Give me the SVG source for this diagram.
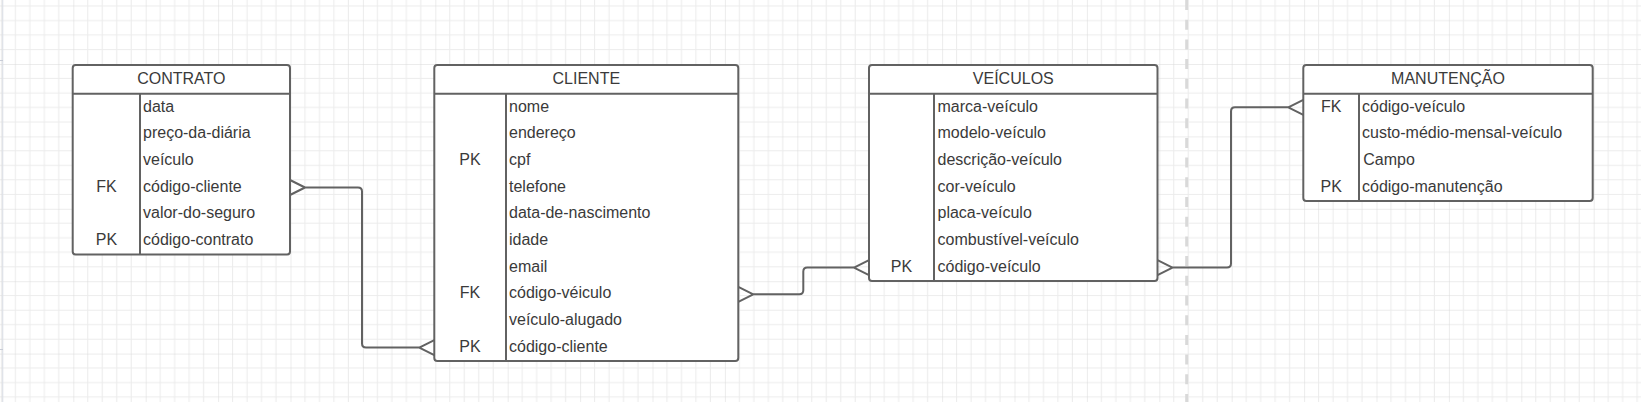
<svg xmlns="http://www.w3.org/2000/svg" width="1641" height="402" viewBox="0 0 1641 402">
  <defs>
    <pattern id="grid" patternUnits="userSpaceOnUse" x="0.9" y="-8.4" width="72.4" height="72.4">
      <rect width="72.4" height="72.4" fill="#ffffff"/>
      <g stroke="#ececec" stroke-width="1">
        <line x1="14.48" y1="0" x2="14.48" y2="72.4"/>
        <line x1="28.96" y1="0" x2="28.96" y2="72.4"/>
        <line x1="43.44" y1="0" x2="43.44" y2="72.4"/>
        <line x1="57.92" y1="0" x2="57.92" y2="72.4"/>
        <line x1="0" y1="14.48" x2="72.4" y2="14.48"/>
        <line x1="0" y1="28.96" x2="72.4" y2="28.96"/>
        <line x1="0" y1="43.44" x2="72.4" y2="43.44"/>
        <line x1="0" y1="57.92" x2="72.4" y2="57.92"/>
      </g>
      <g stroke="#dadada" stroke-width="1">
        <line x1="0" y1="0" x2="0" y2="72.4"/>
        <line x1="0" y1="0" x2="72.4" y2="0"/>
      </g>
    </pattern>
  </defs>
  <style>
    .box { fill: #ffffff; stroke: #626262; stroke-width: 2; }
    .sep { stroke: #626262; stroke-width: 2; fill: none; }
    .hdr { font-family: "Liberation Sans", Arial, sans-serif; font-size: 16px; fill: #3a3a3a; text-anchor: middle; }
    .key { font-family: "Liberation Sans", Arial, sans-serif; font-size: 16px; fill: #3a3a3a; text-anchor: middle; }
    .fld { font-family: "Liberation Sans", Arial, sans-serif; font-size: 16px; fill: #3a3a3a; }
    .conn { stroke: #626262; stroke-width: 2; fill: none; stroke-linejoin: round; }
  </style>

  <rect x="0" y="0" width="1641" height="402" fill="url(#grid)"/>
  <line x1="2.7" y1="0" x2="2.7" y2="402" stroke="#dde0e7" stroke-width="1.2"/>
  <line x1="0" y1="60.5" x2="3" y2="60.5" stroke="#c8ccd6" stroke-width="1"/>
  <line x1="0" y1="349.5" x2="3" y2="349.5" stroke="#c8ccd6" stroke-width="1"/>
  <line x1="1186.7" y1="0" x2="1186.7" y2="402" stroke="#d9d9d9" stroke-width="3" stroke-dasharray="10 9.7"/>

  <g id="connectors">
    <!-- CONTRATO -> CLIENTE -->
    <path class="conn" d="M290,180 L305,187.5 L290,195 M305,187.5 H358 Q362,187.5 362,191.5 V343.6 Q362,347.6 366,347.6 H419.3 M434.3,340.1 L419.3,347.6 L434.3,355.1"/>
    <!-- CLIENTE -> VEICULOS -->
    <path class="conn" d="M738.3,286.8 L753.3,294.3 L738.3,301.8 M753.3,294.3 H799.3 Q803.3,294.3 803.3,290.3 V271.6 Q803.3,267.6 807.3,267.6 H854 M869,260.1 L854,267.6 L869,275.1"/>
    <!-- VEICULOS -> MANUTENCAO -->
    <path class="conn" d="M1157.5,260.1 L1172.5,267.6 L1157.5,275.1 M1172.5,267.6 H1227 Q1231,267.6 1231,263.6 V111.3 Q1231,107.3 1235,107.3 H1288.3 M1303.3,99.8 L1288.3,107.3 L1303.3,114.8"/>
  </g>

  <g id="contrato">
    <rect class="box" x="72.7" y="65" width="217.3" height="189.5" rx="3"/>
    <line class="sep" x1="72.7" y1="93.8" x2="290" y2="93.8"/>
    <line class="sep" x1="140" y1="93.8" x2="140" y2="254.5"/>
    <text class="hdr" x="181.3" y="83.5">CONTRATO</text>
    <text class="fld" x="143" y="111.5">data</text>
    <text class="fld" x="143" y="138.2">preço-da-diária</text>
    <text class="fld" x="143" y="164.9">veículo</text>
    <text class="key" x="106.4" y="191.6">FK</text>
    <text class="fld" x="143" y="191.6">código-cliente</text>
    <text class="fld" x="143" y="218.3">valor-do-seguro</text>
    <text class="key" x="106.4" y="245">PK</text>
    <text class="fld" x="143" y="245">código-contrato</text>
  </g>

  <g id="cliente">
    <rect class="box" x="434.3" y="65" width="304" height="296" rx="3"/>
    <line class="sep" x1="434.3" y1="93.8" x2="738.3" y2="93.8"/>
    <line class="sep" x1="506" y1="93.8" x2="506" y2="361"/>
    <text class="hdr" x="586.3" y="83.5">CLIENTE</text>
    <text class="fld" x="509" y="111.5">nome</text>
    <text class="fld" x="509" y="138.2">endereço</text>
    <text class="key" x="470" y="164.9">PK</text>
    <text class="fld" x="509" y="164.9">cpf</text>
    <text class="fld" x="509" y="191.6">telefone</text>
    <text class="fld" x="509" y="218.3">data-de-nascimento</text>
    <text class="fld" x="509" y="245">idade</text>
    <text class="fld" x="509" y="271.7">email</text>
    <text class="key" x="470" y="298.4">FK</text>
    <text class="fld" x="509" y="298.4">código-véiculo</text>
    <text class="fld" x="509" y="325.1">veículo-alugado</text>
    <text class="key" x="470" y="351.8">PK</text>
    <text class="fld" x="509" y="351.8">código-cliente</text>
  </g>

  <g id="veiculos">
    <rect class="box" x="869" y="65" width="288.5" height="216" rx="3"/>
    <line class="sep" x1="869" y1="93.8" x2="1157.5" y2="93.8"/>
    <line class="sep" x1="934" y1="93.8" x2="934" y2="281"/>
    <text class="hdr" x="1013.3" y="83.5">VEÍCULOS</text>
    <text class="fld" x="937.5" y="111.5">marca-veículo</text>
    <text class="fld" x="937.5" y="138.2">modelo-veículo</text>
    <text class="fld" x="937.5" y="164.9">descrição-veículo</text>
    <text class="fld" x="937.5" y="191.6">cor-veículo</text>
    <text class="fld" x="937.5" y="218.3">placa-veículo</text>
    <text class="fld" x="937.5" y="245">combustível-veículo</text>
    <text class="key" x="901.5" y="271.7">PK</text>
    <text class="fld" x="937.5" y="271.7">código-veículo</text>
  </g>

  <g id="manutencao">
    <rect class="box" x="1303.3" y="65" width="289.4" height="136" rx="3"/>
    <line class="sep" x1="1303.3" y1="93.8" x2="1592.7" y2="93.8"/>
    <line class="sep" x1="1359" y1="93.8" x2="1359" y2="201"/>
    <text class="hdr" x="1448" y="83.5">MANUTENÇÃO</text>
    <text class="key" x="1331.2" y="111.5">FK</text>
    <text class="fld" x="1362" y="111.5">código-veículo</text>
    <text class="fld" x="1362" y="138.2">custo-médio-mensal-veículo</text>
    <text class="fld" x="1363.3" y="164.9">Campo</text>
    <text class="key" x="1331.2" y="191.6">PK</text>
    <text class="fld" x="1362" y="191.6">código-manutenção</text>
  </g>
</svg>
